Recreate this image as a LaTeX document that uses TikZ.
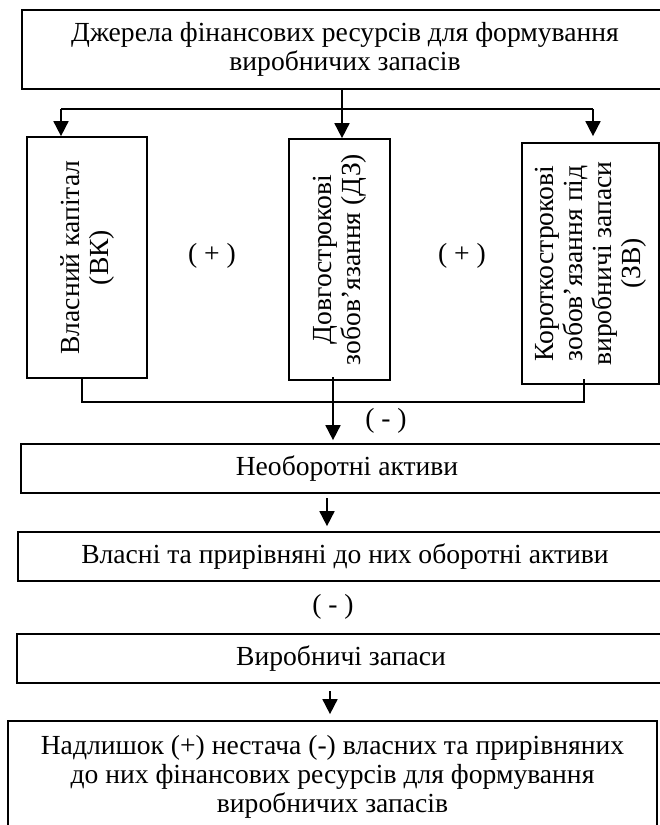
\documentclass[tikz,border=0pt]{standalone}
\usepackage{fontspec}
\setmainfont{Liberation Serif}
\usetikzlibrary{arrows.meta,calc}

\tikzset{
  box/.style={draw, line width=1.7pt, inner sep=0pt, align=center,
    font=\fontsize{27.6}{29}\selectfont},
  vbox/.style={box, rotate=90},
  link/.style={line width=1.7pt},
  arr/.style={link, -{Triangle[width=15pt,length=15pt]}},
  sign/.style={font=\fontsize{27.6}{29}\selectfont, inner sep=0pt}
}

\begin{document}
\begin{tikzpicture}[x=1pt,y=-1pt]
\useasboundingbox (0,0) rectangle (660,825);

% sources of financing
\node[box, minimum width=646pt, minimum height=79pt] (top) at (345,49.5)
  {Джерела фінансових ресурсів для формування\\виробничих запасів};

% three kinds of capital (rotated text: page top = east, page bottom = west)
\node[vbox, minimum width=241pt, minimum height=120pt] (vk) at (87,257.5)
  {Власний капітал\\(ВК)};
\node[vbox, minimum width=241pt, minimum height=101pt] (dz) at (339.5,259.5)
  {Довгострокові\\зобов’язання (ДЗ)};
\node[vbox, minimum width=241pt, minimum height=137pt] (zv) at (590.5,263.5)
  {Короткострокові\\зобов’язання під\\виробничі запаси\\(ЗВ)};

\node[sign] (p1) at (212,256) {( + )};
\node[sign] (p2) at (462,256) {( + )};

% lower chain
\node[box, minimum width=652pt, minimum height=49pt] (neo) at (347,468.5)
  {Необоротні активи};
\node[box, minimum width=654pt, minimum height=49pt] (vl) at (345,556.5)
  {Власні та прирівняні до них оборотні активи};
\node[sign] (m2) at (333,607) {( - )};
\node[box, minimum width=648pt, minimum height=49pt] (vp) at (341,658.5)
  {Виробничі запаси};
\node[box, minimum width=649pt, minimum height=112pt] (res) at (332.5,777)
  {Надлишок (+) нестача (-) власних та прирівняних\\до них фінансових ресурсів для формування\\виробничих запасів};

% distribution from the top box
\coordinate (split) at (342,109);
\coordinate (b1) at (61,109);
\coordinate (b3) at (593,109);
\draw[link] (top.south -| split) -- (split);
\draw[link] (b1) -- (b3);
\draw[arr] (b1) -- (b1 |- vk.east);
\draw[arr] (split) -- (split |- dz.east);
\draw[arr, shorten >=6pt] (b3) -- (b3 |- zv.east);

% gathering below the three boxes
\coordinate (j1) at (82,402);
\coordinate (j3) at (584,402);
\coordinate (jm) at (333,377);
\draw[link] (vk.west -| j1) -- (j1) -- (j3) -- ($(zv.west -| j3)+(0,-6)$);
\draw[arr, shorten >=3pt] (jm) -- (jm |- neo.north);
\node[sign] (m1) at (386,421) {( - )};

% arrows between the lower boxes
\coordinate (a2) at (327,498);
\draw[arr, shorten >=5pt] (a2) -- (a2 |- vl.north);
\coordinate (a3) at (330,691);
\draw[arr, shorten >=6pt] (a3) -- (a3 |- res.north);
\end{tikzpicture}
\end{document}
